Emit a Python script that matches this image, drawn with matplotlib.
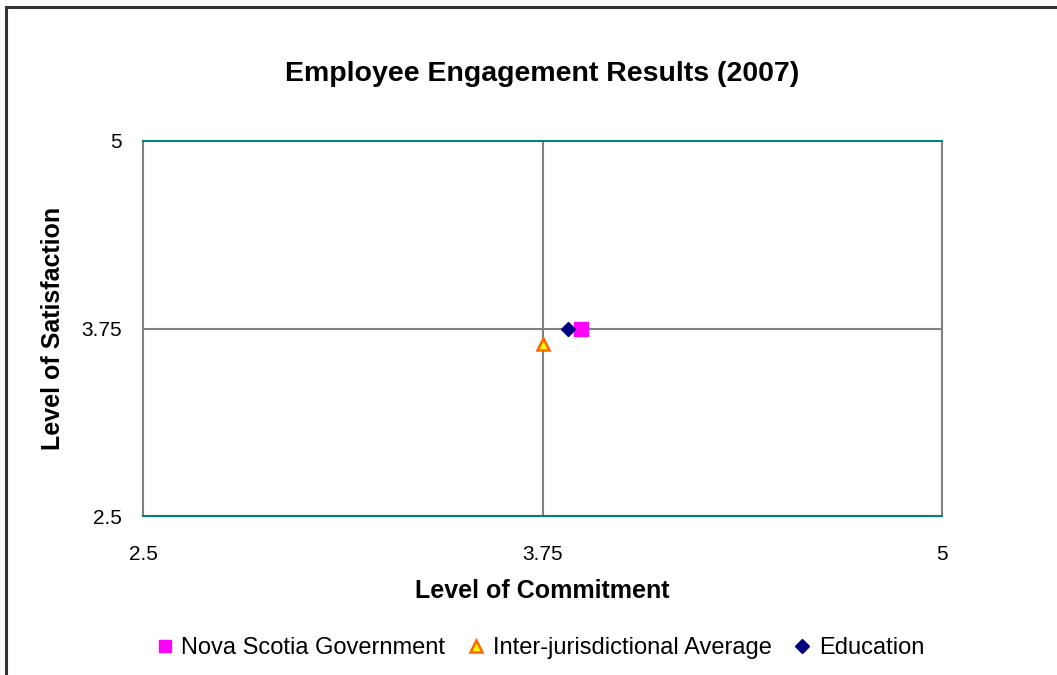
import matplotlib.pyplot as plt
from matplotlib.patches import Rectangle

plt.rcParams["font.family"] = ["Liberation Sans", "DejaVu Sans"]

# data
series = ["Nova Scotia Government", "Inter-jurisdictional Average", "Education"]
commitment = [3.87, 3.75, 3.83]
satisfaction = [3.75, 3.65, 3.75]
ticks = [2.5, 3.75, 5]
tick_labels = ["2.5", "3.75", "5"]

styles = [
    dict(marker="s", color="#FF00FF", mec="#FF00FF", ms=9.5),
    dict(marker="^", color="#FFFF00", mec="#FF6600", mew=1.8, ms=9),
    dict(marker="D", color="#000080", mec="#000080", ms=7.5),
]

fig = plt.figure(figsize=(10.57, 6.75), dpi=100)
ax = fig.add_axes([143 / 1057, 1 - 516 / 675, 799 / 1057, 375 / 675])

# outer chart border (right and bottom edges run off the picture)
fig.patches.append(Rectangle((6 / 1057, -0.2), 1.2, 1.2 - 7 / 675, transform=fig.transFigure,
                             fill=False, ec="#333333", lw=2.2))

ax.axvline(3.75, color="#808080", lw=1.5, zorder=1)
ax.axhline(3.75, color="#808080", lw=1.5, zorder=1)

for name, x, y, st in zip(series, commitment, satisfaction, styles):
    ax.plot([x], [y], ls="none", label=name, zorder=3, **st)

ax.set_xlim(2.5, 5)
ax.set_ylim(2.5, 5)
ax.set_xticks(ticks)
ax.set_xticklabels(tick_labels)
ax.set_yticks(ticks)
ax.set_yticklabels(tick_labels)
ax.tick_params(length=0, labelsize=15)
ax.tick_params(axis="x", pad=21)
ax.tick_params(axis="y", pad=15)

for side in ["top", "bottom"]:
    ax.spines[side].set_color("#008080")
    ax.spines[side].set_linewidth(1.5)
for side in ["left", "right"]:
    ax.spines[side].set_color("#808080")
    ax.spines[side].set_linewidth(1.5)

ax.set_title("Employee Engagement Results (2007)", fontsize=20.5, fontweight="bold", pad=43)
ax.set_xlabel("Level of Commitment", fontsize=18, fontweight="bold", labelpad=11)
ax.set_ylabel("Level of Satisfaction", fontsize=18, fontweight="bold", labelpad=12)

fig.legend(loc="center", bbox_to_anchor=(541 / 1057, 1 - 648 / 675), ncol=3, frameon=False,
           fontsize=17, handlelength=0.6, handletextpad=0.4, columnspacing=1.0, markerscale=0.9)

fig.savefig("out.png", dpi=100)
